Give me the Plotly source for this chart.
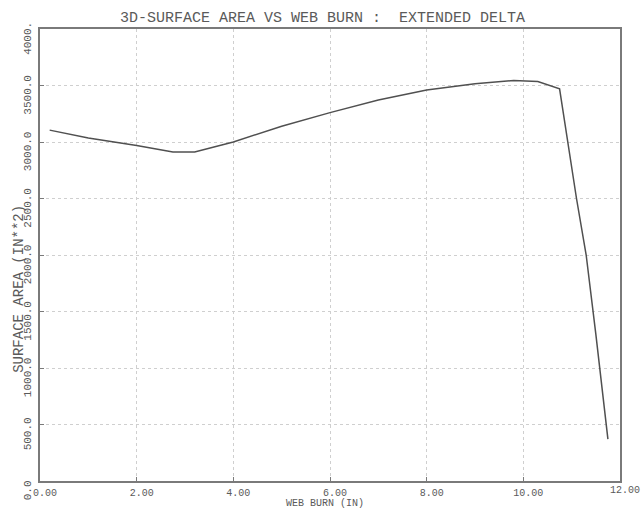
import plotly.graph_objects as go

# Data
web_burn = [0.2, 1.0, 2.0, 2.75, 3.2, 4.0, 5.0, 6.0, 7.0, 8.0, 9.0, 9.8, 10.3, 10.75, 11.1, 11.3, 11.5, 11.75]
surface_area = [3105, 3035, 2970, 2912, 2912, 3000, 3140, 3260, 3372, 3460, 3515, 3545, 3535, 3470, 2500, 2000, 1300, 370]

x_tickvals = [0, 2, 4, 6, 8, 10, 12]
x_ticktext = ["0.00", "2.00", "4.00", "6.00", "8.00", "10.00", "12.00"]
y_tickvals = [0, 500, 1000, 1500, 2000, 2500, 3000, 3500, 4000]
y_ticktext = ["0.0", "500.0", "1000.0", "1500.0", "2000.0", "2500.0", "3000.0", "3500.0", "4000."]

title_text = "3D-SURFACE AREA VS WEB BURN :  EXTENDED DELTA"
x_title = "WEB BURN (IN)"
y_title = "SURFACE AREA (IN**2)"

FONT = "Liberation Mono, DejaVu Sans Mono, monospace"
TXT = "#5a5a5a"
FRAME = "#7a7a7a"
GRID = "#cfcfcf"

fig = go.Figure()
fig.add_trace(go.Scatter(
    x=web_burn, y=surface_area, mode="lines",
    line=dict(color="#505050", width=1.5),
    showlegend=False, hoverinfo="skip",
))

fig.update_layout(
    width=641, height=512,
    margin=dict(l=40, r=21, t=29, b=29),
    paper_bgcolor="white", plot_bgcolor="white",
    font=dict(family=FONT, color=TXT, size=11),
    showlegend=False,
)

# last x label sits past the plot edge; it is drawn as an annotation below
fig.update_xaxes(
    range=[0, 12], tickvals=x_tickvals, ticktext=x_ticktext[:-1] + [""],
    showline=True, linecolor=FRAME, linewidth=1.5, mirror=True,
    ticks="inside", ticklen=4, tickcolor=FRAME,
    showgrid=True, gridcolor=GRID, griddash="dot", gridwidth=1,
    zeroline=False, ticklabelshift=5, ticklabelstandoff=1,
    tickfont=dict(family=FONT, size=10, color=TXT),
)
fig.update_yaxes(
    range=[0, 4000], tickvals=y_tickvals, ticktext=y_ticktext,
    showline=True, linecolor=FRAME, linewidth=1.5, mirror=True,
    ticks="inside", ticklen=4, tickcolor=FRAME,
    showgrid=True, gridcolor=GRID, griddash="dot", gridwidth=1,
    zeroline=False, tickangle=-90, ticklabelshift=11, ticklabelstandoff=3,
    tickfont=dict(family=FONT, size=11, color=TXT),
)

fig.add_annotation(text=x_ticktext[-1], x=x_tickvals[-1], xref="x", yref="paper",
                   y=0, xshift=5, yshift=-9, showarrow=False, xanchor="center",
                   yanchor="middle", font=dict(family=FONT, size=10, color=TXT))

fig.add_annotation(text=title_text, xref="paper", yref="paper",
                   x=(322 - 40) / 580, y=1, yshift=11, showarrow=False,
                   font=dict(family=FONT, size=15, color=TXT), yanchor="middle")
fig.add_annotation(text=x_title, xref="paper", yref="paper",
                   x=(325 - 40) / 580, y=0, yshift=-29, showarrow=False,
                   borderpad=0,
                   font=dict(family=FONT, size=10, color=TXT), yanchor="bottom")
fig.add_annotation(text=y_title, xref="paper", yref="paper",
                   x=0, xshift=-21, y=(483 - 290) / 454, showarrow=False,
                   textangle=-90,
                   font=dict(family=FONT, size=14, color=TXT), xanchor="center")

fig.write_html("out.html")
